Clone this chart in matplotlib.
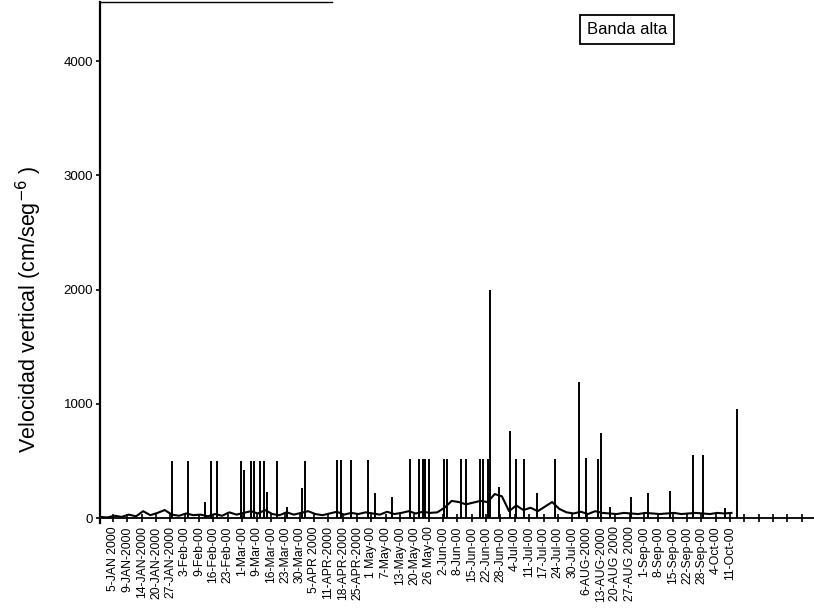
import numpy as np
import matplotlib
matplotlib.use("Agg")
import matplotlib.pyplot as plt

plt.rcParams['font.family'] = ['Liberation Sans', 'DejaVu Sans']

# category labels on the x axis (one per tick, roughly weekly)
date_labels = [
    "5-JAN 2000", "9-JAN-2000", "14-JAN-2000", "20-JAN-2000", "27-JAN-2000",
    "3-Feb-00", "9-Feb-00", "16-Feb-00", "23-Feb-00", "1-Mar-00", "9-Mar-00",
    "16-Mar-00", "23-Mar-00", "30-Mar-00", "5-APR 2000", "11-APR-2000",
    "18-APR-2000", "25-APR-2000", "1 May-00", "7-May-00", "13-May-00",
    "20-May-00", "26 May-00", "2-Jun-00", "8-Jun-00", "15-Jun-00", "22-Jun-00",
    "28-Jun-00", "4-Jul-00", "11-Jul-00", "17-Jul-00", "24-Jul-00", "30-Jul-00",
    "6-AUG-2000", "13-AUG-2000", "20-AUG 2000", "27-AUG 2000", "1-Sep-00",
    "8-Sep-00", "15-Sep-00", "22-Sep-00", "28-Sep-00", "4-Oct-00", "11-Oct-00",
]
n_ticks = 49  # ticks keep going past the last label

# background signal, one value every half tick starting at -0.9
base_start = -0.9
base_step = 0.5
base_vals = [
    10, 5, 20, 10, 30, 15, 60, 25, 45, 70,
    30, 20, 40, 25, 30, 15, 35, 20, 50, 30,
    45, 60, 40, 70, 35, 25, 50, 30, 45, 60,
    35, 25, 40, 55, 30, 45, 35, 50, 40, 30,
    55, 35, 45, 60, 40, 55, 45, 50, 90, 150,
    140, 120, 135, 150, 140, 210, 190, 60, 110, 70,
    90, 60, 100, 140, 80, 50, 40, 55, 35, 60,
    45, 40, 35, 45, 40, 35, 45, 40, 35, 40,
    45, 35, 40, 45, 40, 35, 45, 40, 45,
]

# spikes: position (in tick units) and peak value
spike_pos = [
    4.11, 5.23, 6.41, 6.83, 7.25, 8.92, 9.13, 9.62, 9.83, 10.24,
    10.52, 10.73, 11.43, 12.13, 13.17, 13.38, 15.61, 15.89, 16.59, 17.77,
    18.26, 19.44, 20.70, 21.32, 21.60, 21.74, 22.02, 23.07, 23.28, 24.25,
    24.60, 25.57, 25.78, 26.13, 26.27, 26.90, 27.67, 28.08, 28.64, 29.55,
    30.80, 32.47, 32.96, 33.80, 34.01, 34.63, 36.10, 37.28, 38.81, 40.42,
    41.11, 42.65, 43.48,
]
spike_val = [
    500, 500, 140, 500, 500, 500, 420, 500, 500, 500,
    500, 230, 500, 100, 260, 500, 510, 510, 510, 510,
    220, 185, 520, 520, 520, 520, 520, 520, 520, 520,
    520, 520, 520, 520, 2000, 275, 765, 520, 520, 215,
    520, 1190, 525, 520, 745, 100, 180, 215, 235, 550,
    550, 90, 955,
]

base_x = base_start + base_step * np.arange(len(base_vals))

fig = plt.figure(figsize=(8.14, 6.16), dpi=100)
ax = fig.add_axes([0.1229, 0.1516, 0.8771, 0.8457])

ax.plot(base_x, base_vals, color='black', lw=1.5)
ax.vlines(spike_pos, 0, spike_val, color='black', lw=1.4)

ax.set_xlim(-0.906, 48.85)
ax.set_ylim(-40, 4520)

ax.spines['right'].set_visible(False)
ax.spines['top'].set_visible(False)
ax.spines['bottom'].set_position(('data', 0))
ax.spines['bottom'].set_linewidth(1.3)
ax.spines['left'].set_linewidth(1.6)
# partial frame line visible at the top-left of the scan
ax.plot([0, 0.325], [1, 1], color='black', lw=1.0, transform=ax.transAxes, clip_on=False)

ax.set_xticks(np.arange(n_ticks))
ax.set_xticklabels(date_labels + [""] * (n_ticks - len(date_labels)),
                   rotation=90, fontsize=8.8)
ax.tick_params(axis='x', direction='inout', length=6, width=1.2, pad=3)

ax.set_yticks([0, 1000, 2000, 3000, 4000])
ax.set_yticklabels(["0", "1000", "2000", "3000", "4000"], fontsize=9.5)
ax.tick_params(axis='y', direction='out', length=3, width=1.2, pad=2)

ax.set_ylabel("Velocidad vertical (cm/seg$^{\\mathsf{-6}}$ )", fontsize=15.5)
ax.yaxis.set_label_coords(-0.078, 0.41)

ax.text(0.738, 0.946, "Banda alta", transform=ax.transAxes, fontsize=12,
        ha='center', va='center',
        bbox=dict(boxstyle='square,pad=0.42', facecolor='white', edgecolor='black', lw=1.3))

fig.savefig("out.png", dpi=100)
